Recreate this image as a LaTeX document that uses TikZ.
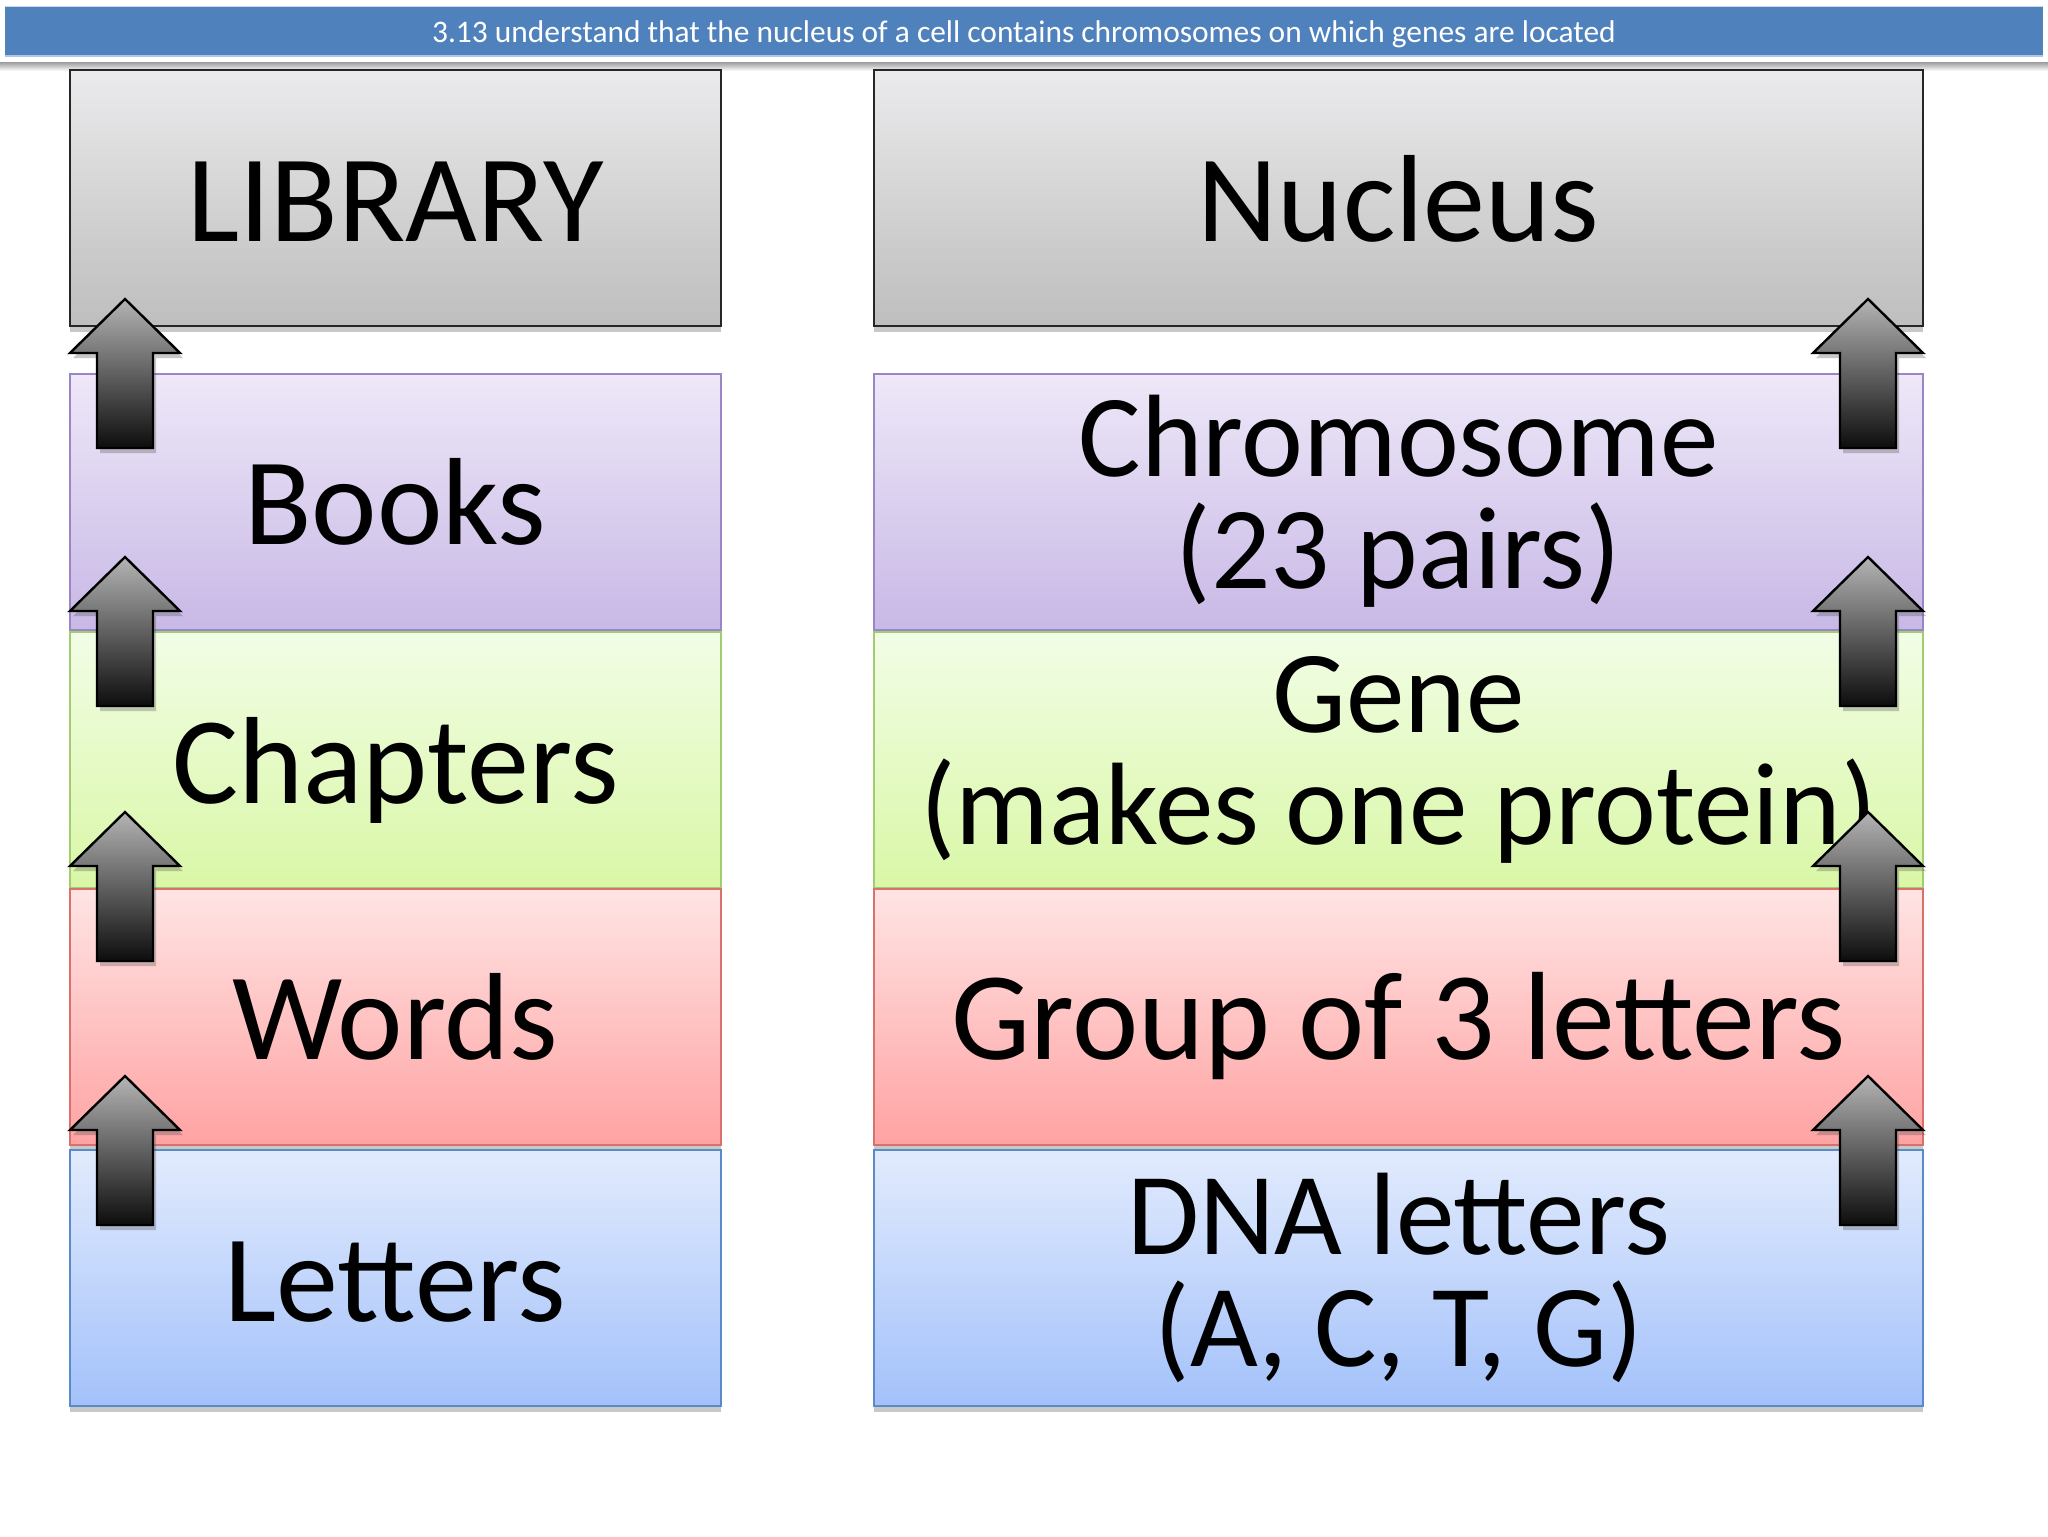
\documentclass[tikz,border=0pt]{standalone}
\usepackage{fontspec}
\setmainfont{Carlito}
\usetikzlibrary{shadows}
\definecolor{bannerblue}{HTML}{4F81BD}
\definecolor{grayTop}{HTML}{EBEAEC}\definecolor{grayBot}{HTML}{BEBEBE}
\definecolor{purTop}{HTML}{EEE8F8}\definecolor{purBot}{HTML}{C8B8E6}\definecolor{purLine}{HTML}{9A86C6}
\definecolor{grnTop}{HTML}{F2FDE6}\definecolor{grnBot}{HTML}{D9F7A6}\definecolor{grnLine}{HTML}{A3CB72}
\definecolor{redTop}{HTML}{FFE4E4}\definecolor{redBot}{HTML}{FFA3A3}\definecolor{redLine}{HTML}{D9706C}
\definecolor{bluTop}{HTML}{E2EBFD}\definecolor{bluBot}{HTML}{A3C1FA}\definecolor{bluLine}{HTML}{5A8AC8}
\definecolor{arrTop}{HTML}{B4B4B4}
\tikzset{
  box/.style={rectangle, inner sep=0pt, minimum height=128pt, line width=1pt,
    align=center, text=black,
    drop shadow={shadow xshift=0pt, shadow yshift=-3pt, opacity=0.3, fill=black!70}},
  oneline/.style={font=\fontsize{62pt}{56pt}\selectfont, text height=60pt, text depth=17pt},
  twoline/.style={font=\fontsize{58.6pt}{56pt}\selectfont},
  lbox/.style={box, minimum width=325.5pt},
  rbox/.style={box, minimum width=524.5pt},
  graybox/.style={draw=black!85, top color=grayTop, bottom color=grayBot},
  purbox/.style={draw=purLine, top color=purTop, bottom color=purBot},
  grnbox/.style={draw=grnLine, top color=grnTop, bottom color=grnBot},
  redbox/.style={draw=redLine, top color=redTop, bottom color=redBot},
  blubox/.style={draw=bluLine, top color=bluTop, bottom color=bluBot},
  blockarrow/.style={draw=black, line width=1.2pt, line join=miter, top color=arrTop, bottom color=black!95,
    drop shadow={shadow xshift=1.5pt, shadow yshift=-2.5pt, opacity=0.3, fill=black!70}},
}
\newcommand\upblock[2]{\path[blockarrow] (#1,#2) -- ++(55,54) -- ++(-27,0) -- ++(0,95) -- ++(-56,0) -- ++(0,-95) -- ++(-27,0) -- cycle;}
\begin{document}
\begin{tikzpicture}[x=0.5pt,y=-0.5pt]
\useasboundingbox (0,0) rectangle (2048,1536);
\fill[white] (0,0) rectangle (2048,1536);
% banner
\fill[bannerblue] (5,6) rectangle (2043,56);
\draw[white!70!bannerblue, line width=0.8pt] (5,6.5) -- (2043,6.5);
\draw[white!55!bannerblue, line width=0.8pt] (5,56) -- (2043,56);
\shade[top color=black!35, bottom color=white] (0,63) rectangle (2048,71);
\node[text=white, font=\fontsize{15.7pt}{18pt}\selectfont] (title) at (1024,34) {3.13 understand that the nucleus of a cell contains chromosomes on which genes are located};
% left column
\node[lbox, graybox, oneline] (library) at (395.5,198) {LIBRARY};
\node[lbox, purbox, oneline] (books) at (395.5,501.5) {Books};
\node[lbox, grnbox, oneline] (chapters) at (395.5,760) {Chapters};
\node[lbox, redbox, oneline] (words) at (395.5,1016.5) {Words};
\node[lbox, blubox, oneline] (letters) at (395.5,1278) {Letters};
% right column
\node[rbox, graybox, oneline] (nucleus) at (1398.5,198) {Nucleus};
\node[rbox, purbox, twoline] (chromosome) at (1398.5,501.5) {Chromosome\\(23 pairs)};
\node[rbox, grnbox, twoline] (gene) at (1398.5,760) {Gene\\(makes one protein)};
\node[rbox, redbox, oneline, font=\fontsize{62.8pt}{56pt}\selectfont] (group) at (1398.5,1016.5) {Group of 3 letters};
\node[rbox, blubox, twoline] (dna) at (1398.5,1278) {DNA letters\\(A, C, T, G)};
% arrows
\foreach \t in {299,557,812,1076}{
  \upblock{125}{\t}
  \upblock{1868}{\t}
}
\end{tikzpicture}
\end{document}
